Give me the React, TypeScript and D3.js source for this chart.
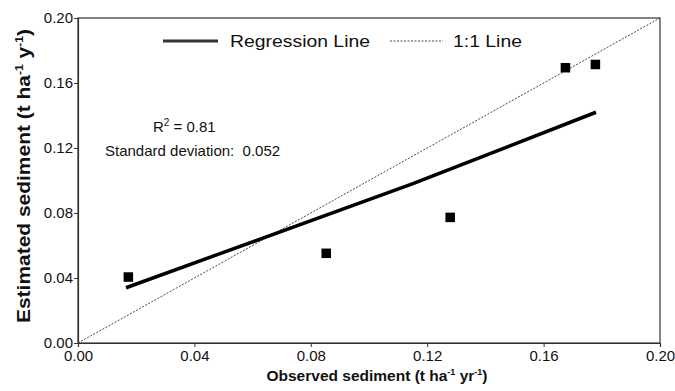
import React, { useRef, useEffect } from 'react'
import * as d3 from 'd3'

// Observed vs. estimated sediment (t ha-1 yr-1)
const observed = [0.0173, 0.0853, 0.1279, 0.1675, 0.1778]
const estimated = [0.0406, 0.0552, 0.0773, 0.1694, 0.1714]

// Regression line
const regressionObserved = [0.0165, 0.1151, 0.178]
const regressionEstimated = [0.034, 0.0981, 0.142]

// 1:1 line
const oneToOne = [0, 0.2]

const xTicks = [0, 0.04, 0.08, 0.12, 0.16, 0.2]
const yTicks = [0, 0.04, 0.08, 0.12, 0.16, 0.2]

const rSquared = '0.81'
const stdDeviation = '0.052'

const WIDTH = 675
const HEIGHT = 391
const FONT = 'Arial, "Liberation Sans", Helvetica, sans-serif'

export default function App() {
  const svgRef = useRef<SVGSVGElement>(null)

  useEffect(() => {
    if (!svgRef.current) return
    const svg = d3.select(svgRef.current)
    svg.selectAll('*').remove()

    const x = d3.scaleLinear().domain([0, 0.2]).range([78, 660])
    const y = d3.scaleLinear().domain([0, 0.2]).range([343, 18])

    // Frame
    svg
      .append('rect')
      .attr('x', x(0))
      .attr('y', y(0.2))
      .attr('width', x(0.2) - x(0))
      .attr('height', y(0) - y(0.2))
      .attr('fill', 'none')
      .attr('stroke', '#333')
      .attr('stroke-width', 1.2)

    // X axis
    const xAxis = svg
      .append('g')
      .attr('transform', `translate(0, ${y(0)})`)
      .call(
        d3
          .axisBottom(x)
          .tickValues(xTicks)
          .tickSize(4)
          .tickPadding(3)
          .tickFormat(d3.format('.2f'))
      )
    xAxis.select('.domain').attr('stroke', '#333').attr('stroke-width', 1.2)
    xAxis.selectAll('line').attr('stroke', '#333')
    xAxis
      .selectAll('text')
      .attr('fill', '#111')
      .style('font-family', FONT)
      .style('font-size', '15px')

    // Y axis
    const yAxis = svg
      .append('g')
      .attr('transform', `translate(${x(0)}, 0)`)
      .call(
        d3
          .axisLeft(y)
          .tickValues(yTicks)
          .tickSize(4)
          .tickPadding(1)
          .tickFormat(d3.format('.2f'))
      )
    yAxis.select('.domain').attr('stroke', '#333').attr('stroke-width', 1.2)
    yAxis.selectAll('line').attr('stroke', '#333')
    yAxis
      .selectAll('text')
      .attr('fill', '#111')
      .style('font-family', FONT)
      .style('font-size', '15px')

    // 1:1 line
    svg
      .append('line')
      .attr('x1', x(oneToOne[0]))
      .attr('y1', y(oneToOne[0]))
      .attr('x2', x(oneToOne[1]))
      .attr('y2', y(oneToOne[1]))
      .attr('stroke', '#333')
      .attr('stroke-width', 0.9)
      .attr('stroke-dasharray', '2,1.5')

    // Regression line
    const line = d3
      .line<number>()
      .x((_d, i) => x(regressionObserved[i]))
      .y(d => y(d))
    svg
      .append('path')
      .attr('d', line(regressionEstimated))
      .attr('fill', 'none')
      .attr('stroke', '#000')
      .attr('stroke-width', 3.5)

    // Data points
    const size = 9.5
    svg
      .append('g')
      .selectAll('rect')
      .data(observed)
      .enter()
      .append('rect')
      .attr('x', d => x(d) - size / 2)
      .attr('y', (_d, i) => y(estimated[i]) - size / 2)
      .attr('width', size)
      .attr('height', size)
      .attr('fill', '#000')

    // Legend
    const legend = svg.append('g')
    legend
      .append('line')
      .attr('x1', 163)
      .attr('x2', 218)
      .attr('y1', 41)
      .attr('y2', 41)
      .attr('stroke', '#333')
      .attr('stroke-width', 3)
    legend
      .append('text')
      .attr('x', 230)
      .attr('y', 47)
      .attr('fill', '#111')
      .attr('textLength', 140)
      .attr('lengthAdjust', 'spacingAndGlyphs')
      .style('font-family', FONT)
      .style('font-size', '17px')
      .text('Regression Line')
    legend
      .append('line')
      .attr('x1', 390)
      .attr('x2', 443)
      .attr('y1', 41)
      .attr('y2', 41)
      .attr('stroke', '#333')
      .attr('stroke-width', 0.9)
      .attr('stroke-dasharray', '2,1.5')
    legend
      .append('text')
      .attr('x', 453)
      .attr('y', 47)
      .attr('fill', '#111')
      .attr('textLength', 69)
      .attr('lengthAdjust', 'spacingAndGlyphs')
      .style('font-family', FONT)
      .style('font-size', '17px')
      .text('1:1 Line')

    // Statistics
    const r2 = svg
      .append('text')
      .attr('x', 153)
      .attr('y', 132)
      .attr('fill', '#111')
      .style('font-family', FONT)
      .style('font-size', '15px')
    r2.append('tspan').text('R')
    r2.append('tspan').attr('dy', -6).style('font-size', '10px').text('2')
    r2.append('tspan').attr('dy', 6).text(` = ${rSquared}`)

    svg
      .append('text')
      .attr('x', 105)
      .attr('y', 156)
      .attr('fill', '#111')
      .style('font-family', FONT)
      .style('font-size', '15px')
      .style('white-space', 'pre')
      .text(`Standard deviation:  ${stdDeviation}`)

    // Axis titles
    const xTitle = svg
      .append('text')
      .attr('x', 377)
      .attr('y', 381)
      .attr('text-anchor', 'middle')
      .attr('fill', '#111')
      .style('font-family', FONT)
      .style('font-size', '15.5px')
      .style('font-weight', 'bold')
    xTitle.append('tspan').text('Observed sediment (t ha')
    xTitle.append('tspan').attr('dy', -6).style('font-size', '9px').text('-1')
    xTitle.append('tspan').attr('dy', 6).text(' yr')
    xTitle.append('tspan').attr('dy', -6).style('font-size', '9px').text('-1')
    xTitle.append('tspan').attr('dy', 6).text(')')

    const yTitle = svg
      .append('text')
      .attr('transform', 'translate(30, 176) rotate(-90)')
      .attr('text-anchor', 'middle')
      .attr('fill', '#111')
      .attr('textLength', 294)
      .attr('lengthAdjust', 'spacingAndGlyphs')
      .style('font-family', FONT)
      .style('font-size', '19px')
      .style('font-weight', 'bold')
    yTitle.append('tspan').text('Estimated sediment (t ha')
    yTitle.append('tspan').attr('dy', -7).style('font-size', '11px').text('-1')
    yTitle.append('tspan').attr('dy', 7).text(' y')
    yTitle.append('tspan').attr('dy', -7).style('font-size', '11px').text('-1')
    yTitle.append('tspan').attr('dy', 7).text(')')
  }, [])

  return (
    <svg
      ref={svgRef}
      width={WIDTH}
      height={HEIGHT}
      style={{ position: 'absolute', left: 0, top: 0, background: '#fff' }}
    />
  )
}
